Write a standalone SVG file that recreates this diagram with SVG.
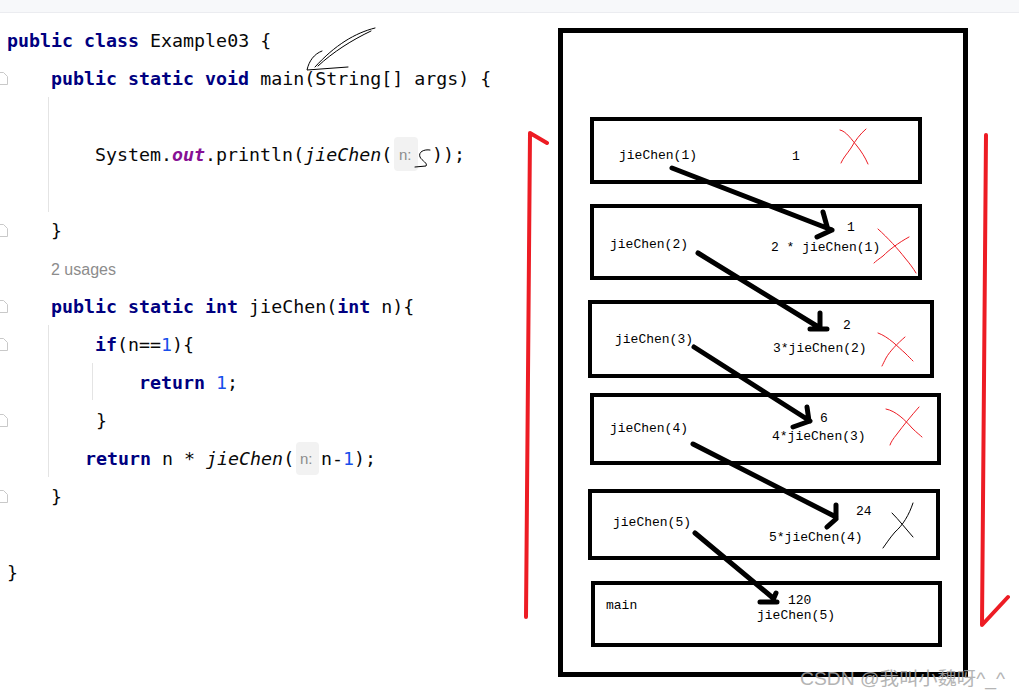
<svg xmlns="http://www.w3.org/2000/svg" width="1019" height="696" viewBox="0 0 1019 696">
<style>
.code{font-family:"DejaVu Sans Mono","Liberation Mono",monospace;font-size:18.3px;fill:#080808}
.kw{fill:#000080;font-weight:bold}
.num{fill:#1750eb}
.it{font-style:italic}
.out{fill:#871094;font-style:italic;font-weight:bold}
.hint{font-family:"Liberation Sans","Noto Sans",sans-serif;font-size:15px;fill:#8c8c8c}
.hintbox{fill:#f2f2f2}
.guide{stroke:#e4e4e4;stroke-width:1}
.fold{fill:none;stroke:#c9c9c9;stroke-width:1}
.frame{fill:none;stroke:#000;stroke-width:4}
.outer{fill:none;stroke:#000;stroke-width:5}
.lbl{font-family:"Liberation Mono","DejaVu Sans Mono",monospace;font-size:13px;fill:#000}
.arr{fill:none;stroke:#000;stroke-width:5;stroke-linecap:round;stroke-linejoin:round}
.redx{fill:none;stroke:#ed1c24;stroke-width:1;stroke-linecap:round}
.blkx{fill:none;stroke:#000;stroke-width:1;stroke-linecap:round}
.red{fill:none;stroke:#ed1c24;stroke-width:4;stroke-linecap:round;stroke-linejoin:round}
.pen{fill:none;stroke:#000;stroke-width:1;stroke-linecap:round}
</style>
<rect width="1019" height="696" fill="#fff"/>
<rect x="0" y="0" width="1019" height="12" fill="#f7f8fa"/>
<line x1="0" y1="12.5" x2="1019" y2="12.5" stroke="#ebecf0"/>

<g id="code">
  <g class="fold-icons">
    <path class="fold" d="M-3,72.5 H3.5 L7.5,76.5 V84.5 H-3"/>
    <path class="fold" d="M-3,224.5 H3.5 L7.5,228.5 V236.5 H-3"/>
    <path class="fold" d="M-3,300.5 H3.5 L7.5,304.5 V312.5 H-3"/>
    <path class="fold" d="M-3,338.5 H3.5 L7.5,342.5 V350.5 H-3"/>
    <path class="fold" d="M-3,414.5 H3.5 L7.5,418.5 V426.5 H-3"/>
    <path class="fold" d="M-3,490.5 H3.5 L7.5,494.5 V502.5 H-3"/>
  </g>
  <line class="guide" x1="48.5" y1="97" x2="48.5" y2="212"/>
  <line class="guide" x1="48.5" y1="325" x2="48.5" y2="477"/>
  <line class="guide" x1="92.5" y1="363" x2="92.5" y2="400"/>
  <rect class="hintbox" x="394" y="137" width="24" height="34" rx="4"/>
  <rect class="hintbox" x="296" y="442" width="23" height="33" rx="4"/>

  <text class="code" x="7" y="47"><tspan class="kw">public class</tspan> Example03 {</text>
  <text class="code" x="51" y="85"><tspan class="kw">public static void</tspan> main(String[] args) {</text>
  <text class="code" x="95" y="161">System.<tspan class="out">out</tspan>.println(<tspan class="it">jieChen</tspan>(</text>
  <text class="hint" x="399" y="160">n:</text>
  <text class="code" x="432" y="161">));</text>
  <text class="code" x="51" y="237">}</text>
  <text class="hint" x="51" y="275" style="font-size:16px;fill:#8c8c8c">2 usages</text>
  <text class="code" x="51" y="313"><tspan class="kw">public static int</tspan> jieChen(<tspan class="kw">int</tspan> n){</text>
  <text class="code" x="95" y="351"><tspan class="kw">if</tspan>(n==<tspan class="num">1</tspan>){</text>
  <text class="code" x="139" y="389"><tspan class="kw">return</tspan> <tspan class="num">1</tspan>;</text>
  <text class="code" x="96" y="427">}</text>
  <text class="code" x="85" y="465"><tspan class="kw">return</tspan> n * <tspan class="it">jieChen</tspan>(</text>
  <text class="hint" x="300" y="464">n:</text>
  <text class="code" x="321" y="465">n-<tspan class="num">1</tspan>);</text>
  <text class="code" x="51" y="503">}</text>
  <text class="code" x="7" y="579">}</text>

  <path class="pen" d="M375,28 C355,33 335,45 315,67"/>
  <path class="pen" d="M371,31 C352,40 333,52 318,66"/>
  <path class="pen" d="M322,51 C314,54 309,61 307,70 L348,67"/>
  <path class="pen" d="M430,150 C424,149 418,152 420,157 C422,161 428,163 426,166 L415,167"/>
</g>

<g id="stack">
  <rect class="outer" x="560.5" y="30.5" width="405" height="644"/>
</g>

<g id="frame-jieChen1">
  <rect class="frame" x="592" y="119" width="328" height="63"/>
  <text class="lbl" x="619" y="159">jieChen(1)</text>
  <text class="lbl" x="792" y="160">1</text>
  <path class="redx" d="M840,130 C846,131 852,140 857,146 C861,151 865,157 868,164"/>
  <path class="redx" d="M866,129 C860,134 855,141 851,148 C847,154 843,158 841,163"/>
</g>

<g id="frame-jieChen2">
  <rect class="frame" x="592" y="206" width="328" height="72"/>
  <text class="lbl" x="610" y="248">jieChen(2)</text>
  <text class="lbl" x="847" y="231">1</text>
  <text class="lbl" x="771" y="251">2 * jieChen(1)</text>
  <path class="redx" d="M878,229 C888,238 898,249 905,258 C910,264 913,268 916,273"/>
  <path class="redx" d="M909,237 C898,243 889,250 883,256 C879,259 876,261 874,263"/>
</g>

<g id="frame-jieChen3">
  <rect class="frame" x="590" y="302" width="342" height="74"/>
  <text class="lbl" x="615" y="343">jieChen(3)</text>
  <text class="lbl" x="843" y="329">2</text>
  <text class="lbl" x="773" y="352">3*jieChen(2)</text>
  <path class="redx" d="M878,333 C889,337 898,347 905,353 C909,357 911,359 913,361"/>
  <path class="redx" d="M905,337 C897,344 890,351 886,358 C884,362 883,364 882,366"/>
</g>

<g id="frame-jieChen4">
  <rect class="frame" x="592" y="395" width="347" height="68"/>
  <text class="lbl" x="610" y="432">jieChen(4)</text>
  <text class="lbl" x="820" y="422">6</text>
  <text class="lbl" x="772" y="440">4*jieChen(3)</text>
  <path class="redx" d="M886,409 C896,411 905,420 912,428 C917,433 920,435 922,437"/>
  <path class="redx" d="M919,407 C911,416 903,426 897,434 C893,439 891,442 890,445"/>
</g>

<g id="frame-jieChen5">
  <rect class="frame" x="590" y="491" width="348" height="67"/>
  <text class="lbl" x="613" y="526">jieChen(5)</text>
  <text class="lbl" x="856" y="515">24</text>
  <text class="lbl" x="769" y="541">5*jieChen(4)</text>
  <path class="blkx" d="M892,513 C899,520 906,529 913,537"/>
  <path class="blkx" d="M913,503 C909,515 903,525 895,532 C889,539 886,544 883,548"/>
</g>

<g id="frame-main">
  <rect class="frame" x="593" y="583" width="347" height="62"/>
  <text class="lbl" x="606" y="609">main</text>
  <text class="lbl" x="788" y="604">120</text>
  <text class="lbl" x="757" y="619">jieChen(5)</text>
</g>

<g id="connectors">
  <path class="arr" d="M672,168 L832,230 M823,212 L828,230 M817,237 L832,230"/>
  <path class="arr" d="M698,253 L820,328 M820,313 L820,328 M810,329 L827,329"/>
  <path class="arr" d="M694,347 L810,421 M807,407 L809,421 M793,427 L810,421"/>
  <path class="arr" d="M693,444 L836,517 M836,505 L836,518 M827,527 L836,519"/>
  <path class="arr" d="M695,533 L773,598 M760,602 L777,602 M776,593 L773,600"/>
  <path class="red" d="M526,617 L530,133 L547,143"/>
  <path class="red" d="M986,135 L982,625 L1008,597"/>
</g>

<text x="800" y="685" textLength="205" lengthAdjust="spacingAndGlyphs" style="font-family:'Liberation Sans','Noto Sans CJK SC',sans-serif;font-size:18px;fill:#a8a8a8;opacity:0.85">CSDN @我叫小魏呀^_^</text>
</svg>
